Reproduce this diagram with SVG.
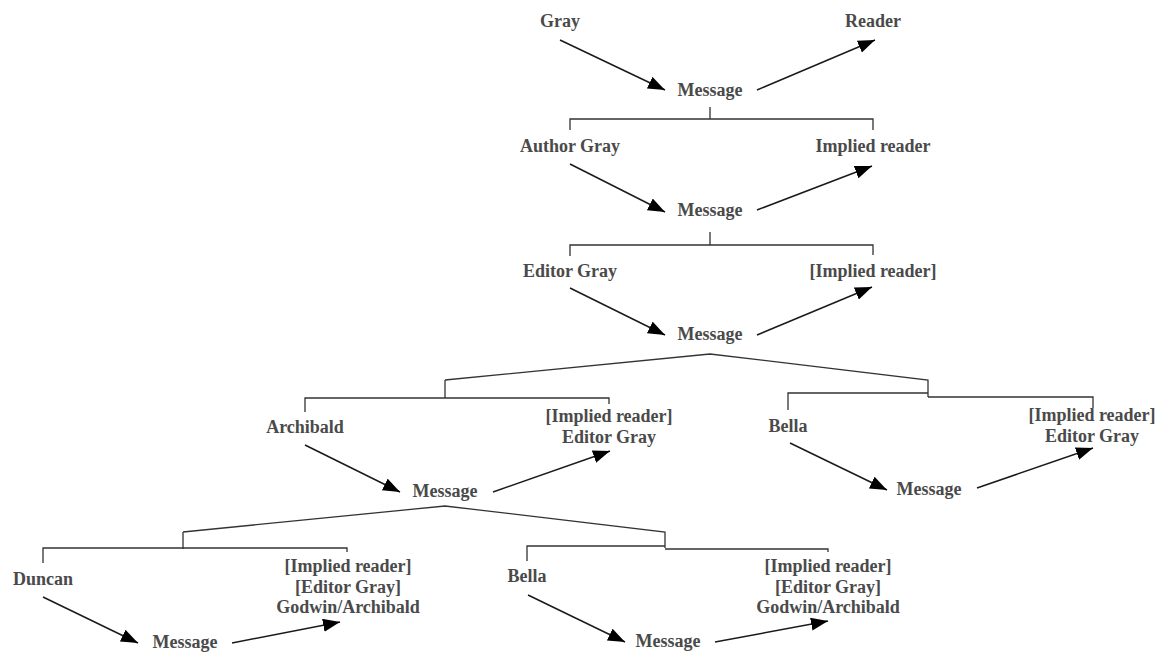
<svg xmlns="http://www.w3.org/2000/svg" width="1168" height="652" viewBox="0 0 1168 652">
<style>
text{font-family:"Liberation Serif","Times New Roman",serif;font-weight:bold;font-size:18px;fill:#4a4a4a;text-anchor:middle}
.arr{stroke:#1a1a1a;stroke-width:1.5;fill:none;marker-end:url(#ah)}
.br{stroke:#333;stroke-width:1.3;fill:none}
</style>
<defs>
<marker id="ah" markerUnits="userSpaceOnUse" markerWidth="18" markerHeight="14" refX="17" refY="6.5" orient="auto">
<path d="M0,0 L17,6.5 L0,13 z" fill="#000"/>
</marker>
</defs>
<rect width="1168" height="652" fill="#fff"/>
<g id="connectors">
<line class="arr" x1="560" y1="40" x2="665" y2="90"/>
<line class="arr" x1="757" y1="90" x2="875" y2="40"/>
<path class="br" d="M710,107 V119 M570,130 V119 H873 V130"/>
<line class="arr" x1="570" y1="164" x2="665" y2="212"/>
<line class="arr" x1="757" y1="210" x2="872" y2="166"/>
<path class="br" d="M710,232 V245 M570,256 V245 H873 V255"/>
<line class="arr" x1="570" y1="288" x2="665" y2="335"/>
<line class="arr" x1="757" y1="335" x2="872" y2="287"/>
<path class="br" d="M445,380 L710,354 L928,380 V397 M445,380 V398 M305,412 V398 H609 V404 M788,410 V393 H928 M928,397 H1093 V408"/>
<line class="arr" x1="305" y1="445" x2="400" y2="492"/>
<line class="arr" x1="493" y1="492" x2="610" y2="451"/>
<line class="arr" x1="790" y1="443" x2="887" y2="490"/>
<line class="arr" x1="977" y1="488" x2="1093" y2="448"/>
<path class="br" d="M183,532 L445,506 L665,532 V548 M183,532 V549 M43,563 V548 H347 V552 M527,561 V546 H665 M665,549 H828 V552"/>
<line class="arr" x1="43" y1="597" x2="138" y2="643"/>
<line class="arr" x1="232" y1="643" x2="340" y2="622"/>
<line class="arr" x1="528" y1="595" x2="625" y2="642"/>
<line class="arr" x1="715" y1="642" x2="828" y2="621"/>
</g>
<g id="n-gray"><text x="560" y="27">Gray</text></g>
<g id="n-reader"><text x="873" y="27">Reader</text></g>
<g id="n-msg1"><text x="710" y="96">Message</text></g>
<g id="n-author"><text x="570" y="152">Author Gray</text></g>
<g id="n-implied1"><text x="873" y="152">Implied reader</text></g>
<g id="n-msg2"><text x="710" y="216">Message</text></g>
<g id="n-editor"><text x="570" y="277">Editor Gray</text></g>
<g id="n-implied2"><text x="873" y="277">[Implied reader]</text></g>
<g id="n-msg3"><text x="710" y="340">Message</text></g>
<g id="n-archibald"><text x="305" y="433">Archibald</text></g>
<g id="n-implied3"><text x="609" y="422">[Implied reader]</text><text x="609" y="443">Editor Gray</text></g>
<g id="n-msg4a"><text x="445" y="497">Message</text></g>
<g id="n-bella1"><text x="788" y="432">Bella</text></g>
<g id="n-implied4"><text x="1092" y="421">[Implied reader]</text><text x="1092" y="442">Editor Gray</text></g>
<g id="n-msg4b"><text x="929" y="495">Message</text></g>
<g id="n-duncan"><text x="43" y="585">Duncan</text></g>
<g id="n-implied5"><text x="348" y="572">[Implied reader]</text><text x="348" y="593">[Editor Gray]</text><text x="348" y="613">Godwin/Archibald</text></g>
<g id="n-msg5a"><text x="185" y="648">Message</text></g>
<g id="n-bella2"><text x="527" y="582">Bella</text></g>
<g id="n-implied6"><text x="828" y="572">[Implied reader]</text><text x="828" y="593">[Editor Gray]</text><text x="828" y="613">Godwin/Archibald</text></g>
<g id="n-msg5b"><text x="668" y="647">Message</text></g>
</svg>
